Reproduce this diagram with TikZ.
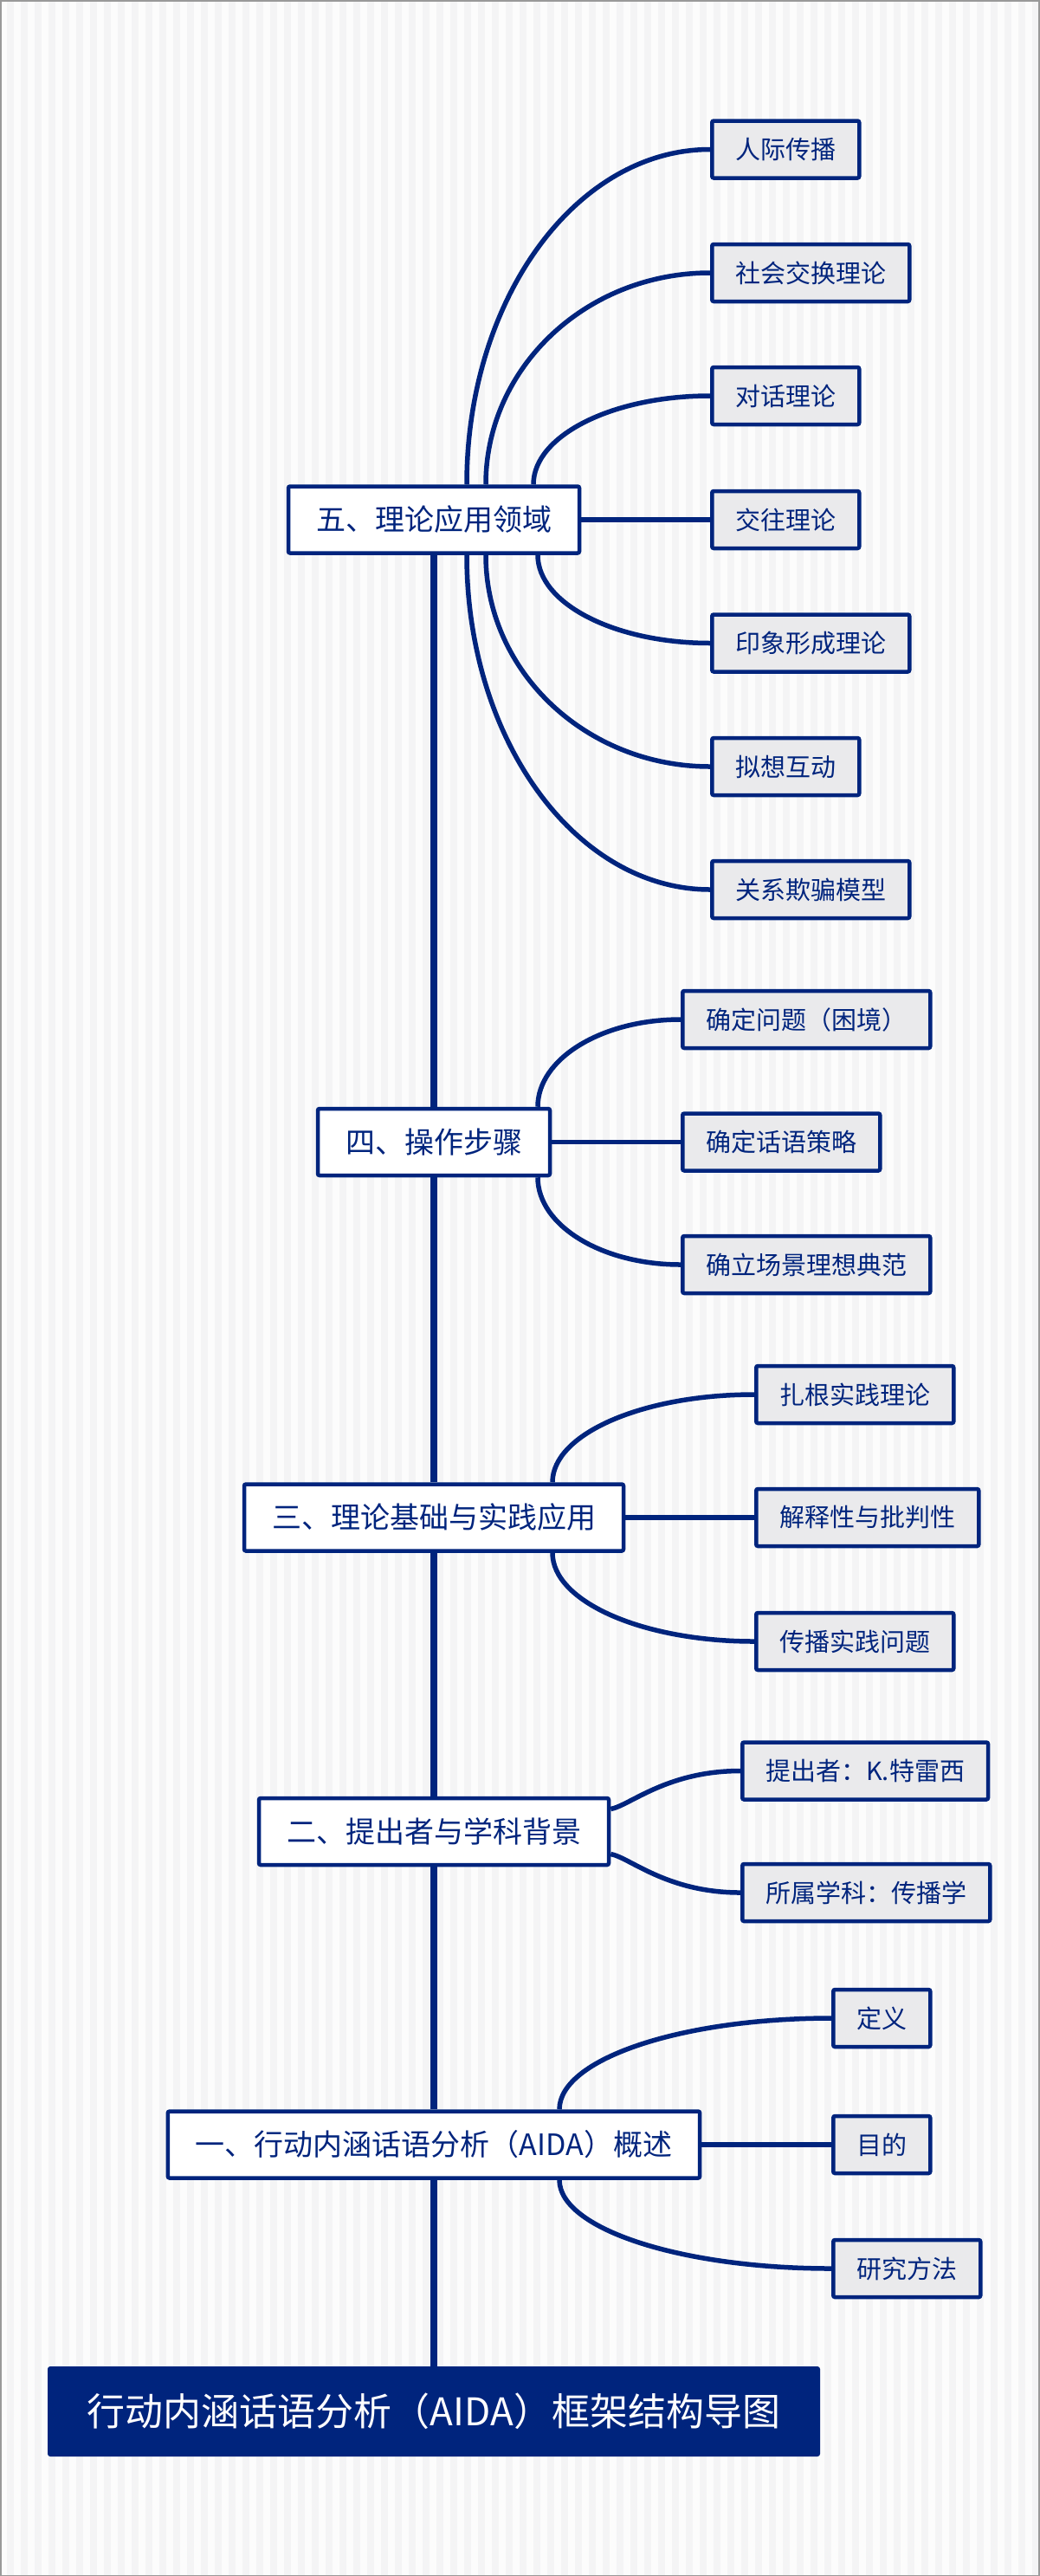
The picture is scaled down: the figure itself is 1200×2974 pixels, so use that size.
\documentclass[tikz,border=0pt]{standalone}
\usepackage{fontspec}
\setmainfont{Noto Sans CJK SC}
\usetikzlibrary{calc}
\definecolor{navy}{RGB}{0,36,125}
\definecolor{childfill}{RGB}{234,234,236}
\definecolor{stripec}{RGB}{244,244,245}
\definecolor{bgc}{RGB}{252,252,252}
\pgfdeclarelayer{back}
\pgfdeclarelayer{mid}
\pgfsetlayers{back,mid,main}
\begin{document}
\begin{tikzpicture}[x=1pt,y=-1pt,
 mainbox/.style={draw=navy, line width=4.5pt, fill=white, rounded corners=2pt, text=navy, font=\fontsize{34}{40}\selectfont, inner xsep=32pt, inner ysep=0pt, minimum height=77pt},
 childbox/.style={draw=navy, line width=4.5pt, fill=childfill, rounded corners=2pt, text=navy, font=\fontsize{29}{34}\selectfont, inner xsep=27pt, inner ysep=0pt, minimum height=66pt, anchor=west},
 titlebox/.style={fill=navy, rounded corners=3pt, text=white, font=\fontsize{44}{52}\selectfont, minimum width=892pt, minimum height=104pt},
 trunk/.style={draw=navy, line width=8pt},
 link/.style={draw=navy, line width=5.5pt},
]
\useasboundingbox (0,0) rectangle (1200,2974);
\begin{pgfonlayer}{back}
\fill[bgc] (0,0) rectangle (1200,2974);
\foreach \i in {0,...,74} \fill[stripec] (8+16*\i,0) rectangle (16+16*\i,2974);
\end{pgfonlayer}

% level 5
\node[mainbox] (m5) at (501,600) {五、理论应用领域};
\node[childbox] (c51) at (820,172.5) {人际传播};
\node[childbox] (c52) at (820,315) {社会交换理论};
\node[childbox] (c53) at (820,457) {对话理论};
\node[childbox] (c54) at (820,600) {交往理论};
\node[childbox] (c55) at (820,742.5) {印象形成理论};
\node[childbox] (c56) at (820,885) {拟想互动};
\node[childbox] (c57) at (820,1027) {关系欺骗模型};
% level 4
\node[mainbox] (m4) at (501,1318.5) {四、操作步骤};
\node[childbox] (c41) at (786,1177) {确定问题（困境）};
\node[childbox] (c42) at (786,1318.5) {确定话语策略};
\node[childbox] (c43) at (786,1460) {确立场景理想典范};
% level 3
\node[mainbox] (m3) at (501,1752) {三、理论基础与实践应用};
\node[childbox] (c31) at (871,1610) {扎根实践理论};
\node[childbox] (c32) at (871,1752) {解释性与批判性};
\node[childbox] (c33) at (871,1895) {传播实践问题};
% level 2
\node[mainbox] (m2) at (501,2114.5) {二、提出者与学科背景};
\node[childbox] (c21) at (855,2044.5) {提出者：K.特雷西};
\node[childbox] (c22) at (855,2185) {所属学科：传播学};
% level 1
\node[mainbox] (m1) at (501,2476) {一、行动内涵话语分析（AIDA）概述};
\node[childbox] (c11) at (960,2330) {定义};
\node[childbox] (c12) at (960,2476) {目的};
\node[childbox] (c13) at (960,2619) {研究方法};
% title
\node[titlebox] (t) at (501,2784) {行动内涵话语分析（AIDA）框架结构导图};

\begin{pgfonlayer}{mid}
\draw[trunk] (m5.south) -- (m4.north);
\draw[trunk] (m4.south) -- (m3.north);
\draw[trunk] (m3.south) -- (m2.north);
\draw[trunk] (m2.south) -- (m1.north);
\draw[trunk] (m1.south) -- (t.north);
\foreach \p/\dx/\c in {m5.north/38/c51, m5.north/60/c52, m5.north/115/c53,
  m5.south/120/c55, m5.south/60/c56, m5.south/38/c57,
  m4.north/120/c41, m4.south/120/c43,
  m3.north/137/c31, m3.south/137/c33,
  m1.north/145/c11, m1.south/145/c13} {
  \coordinate (s) at ([xshift=\dx pt]\p);
  \coordinate (k) at (s|-\c.west);
  \draw[link] (s) .. controls ($(s)!0.552!(k)$) and ($(\c.west)!0.552!(k)$) .. (\c.west);
}
\draw[link] (m5.east) -- (c54.west);
\draw[link] (m4.east) -- (c42.west);
\draw[link] (m3.east) -- (c32.west);
\draw[link] (m1.east) -- (c12.west);
\coordinate (s21) at ([yshift=26pt]m2.east);
\coordinate (s22) at ([yshift=-26pt]m2.east);
\draw[link] (s21) .. controls +(22,-4) and +(-85,0) .. (c21.west);
\draw[link] (s22) .. controls +(22,4) and +(-85,0) .. (c22.west);
\end{pgfonlayer}
\draw[gray!80, line width=3pt] (0,0) rectangle (1200,2974);
\end{tikzpicture}
\end{document}
